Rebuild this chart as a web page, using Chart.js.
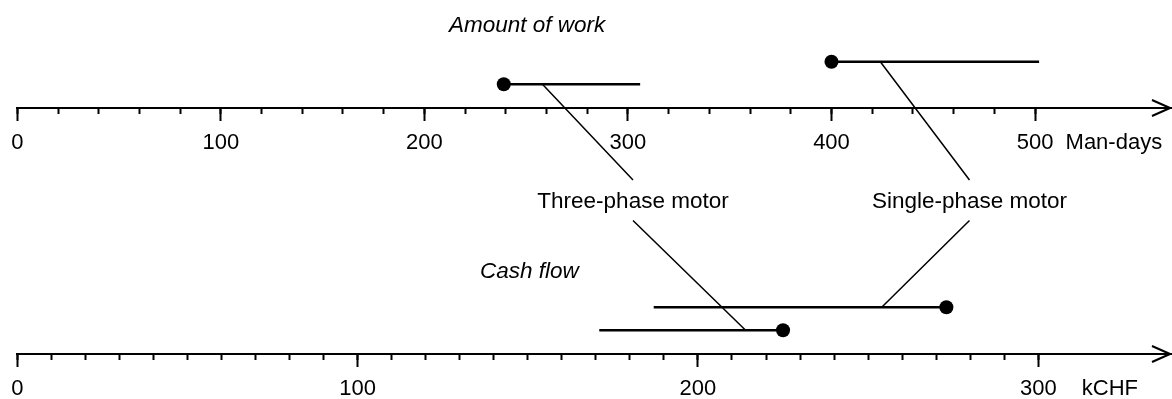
<!DOCTYPE html>
<html>
<head>
<meta charset="utf-8">
<script src="https://cdn.jsdelivr.net/npm/chart.js@4"></script>
<style>
  html, body { margin: 0; padding: 0; background: #fff; }
  #wrap { width: 1172px; height: 399px; position: relative; }
</style>
</head>
<body>
<div id="wrap"><canvas id="estimateChart"></canvas></div>
<script>
// Estimates per motor variant. The dot is the planned figure, the bar its spread.
const motors = ["Three-phase motor", "Single-phase motor"];
const workPlanned = [239, 400];   // man-days
const workMax = [306, 502];
const cashMin = [171, 187];       // kCHF
const cashPlanned = [225, 273];

// where each callout line leaves its bar
const workLeader = [258, 424];
const cashLeader = [214, 254];

const workTicks = [0, 100, 200, 300, 400, 500];
const cashTicks = [0, 100, 200, 300];
const workMinor = [];
for (let v = 0; v <= 500; v += 20) workMinor.push(v);
const cashMinor = [];
for (let v = 0; v <= 300; v += 10) cashMinor.push(v);

// vertical layout on the hidden y scale (0 = top)
const lanes = {
  workAxis: 108.3,
  cashAxis: 354.3,
  work: [84.3, 61.7],
  cash: [330.3, 307.3]
};
const callouts = [{ x: 633, y: 202 }, { x: 969.5, y: 202 }];

const FAMILY = "'Liberation Sans', Arial, Helvetica, sans-serif";
const tickFont = { family: FAMILY, size: 22 };

function axis(max, axisY, values, tickLength, labels) {
  return {
    type: "linear",
    axis: "x",
    min: 0,
    max: max,
    position: { y: axisY },
    afterFit: s => { s.height = 0; },
    afterBuildTicks: s => { s.ticks = values.map(v => ({ value: v })); },
    border: { display: labels, color: "#000", width: 2 },
    grid: { drawOnChartArea: false, drawTicks: true, tickLength: tickLength, tickWidth: 2, tickColor: "#000" },
    ticks: { display: labels, autoSkip: false, maxRotation: 0, padding: 9, color: "#000", font: tickFont }
  };
}

const datasets = [];
motors.forEach((m, i) => {
  datasets.push({
    label: m + " (work)",
    xAxisID: "xWork",
    yAxisID: "y",
    data: [{ x: workPlanned[i], y: lanes.work[i] }, { x: workMax[i], y: lanes.work[i] }],
    pointRadius: [7, 0]
  });
  datasets.push({
    label: m + " (cash)",
    xAxisID: "xCash",
    yAxisID: "y",
    data: [{ x: cashMin[i], y: lanes.cash[i] }, { x: cashPlanned[i], y: lanes.cash[i] }],
    pointRadius: [0, 7]
  });
});
datasets.forEach(d => Object.assign(d, {
  showLine: true,
  borderColor: "#000",
  borderWidth: 2.5,
  pointBackgroundColor: "#000",
  pointBorderWidth: 0,
  clip: false
}));

// arrows, units, titles and callouts
const annotate = {
  id: "annotate",
  afterDraw(chart) {
    const { ctx, scales } = chart;
    const ys = scales.y, xw = scales.xWork, xc = scales.xCash;
    ctx.save();
    ctx.strokeStyle = "#000";
    ctx.fillStyle = "#000";

    // arrow heads
    ctx.lineWidth = 2;
    ctx.lineJoin = "round";
    [[xw, lanes.workAxis], [xc, lanes.cashAxis]].forEach(([s, v]) => {
      const x = s.right, y = Math.round(ys.getPixelForValue(v));
      ctx.beginPath();
      ctx.moveTo(x - 19, y - 8);
      ctx.lineTo(x - 1, y);
      ctx.lineTo(x - 19, y + 8);
      ctx.stroke();
    });

    // unit labels
    ctx.font = "22px " + FAMILY;
    ctx.textBaseline = "middle";
    ctx.textAlign = "left";
    ctx.fillText("Man-days", xw.getPixelForValue(515), ys.getPixelForValue(lanes.workAxis) + 34.5);
    ctx.fillText("kCHF", xc.getPixelForValue(312.8), ys.getPixelForValue(lanes.cashAxis) + 34.5);

    // panel titles
    ctx.font = "italic 22.5px " + FAMILY;
    ctx.fillText("Amount of work", 449, ys.getPixelForValue(26.2));
    ctx.fillText("Cash flow", 480, ys.getPixelForValue(271.5));

    // callouts
    ctx.font = "22.5px " + FAMILY;
    ctx.textAlign = "center";
    ctx.lineWidth = 1.5;
    motors.forEach((m, i) => {
      const c = callouts[i];
      const cy = ys.getPixelForValue(c.y);
      ctx.fillText(m, c.x, cy);
      ctx.beginPath();
      ctx.moveTo(xw.getPixelForValue(workLeader[i]), ys.getPixelForValue(lanes.work[i]));
      ctx.lineTo(c.x, cy - 22);
      ctx.moveTo(c.x, cy + 18.5);
      ctx.lineTo(xc.getPixelForValue(cashLeader[i]), ys.getPixelForValue(lanes.cash[i]));
      ctx.stroke();
    });
    ctx.restore();
  }
};

new Chart(document.getElementById("estimateChart"), {
  type: "scatter",
  data: { datasets },
  options: {
    responsive: true,
    maintainAspectRatio: false,
    animation: false,
    layout: { autoPadding: false, padding: { left: 17.3, right: 1, top: 0, bottom: 0 } },
    scales: {
      y: { type: "linear", min: 0, max: 399, reverse: true, display: false },
      xWork: axis(566.8, lanes.workAxis, workTicks, 12, true),
      xWorkMinor: axis(566.8, lanes.workAxis, workMinor, 6, false),
      xCash: axis(339.0, lanes.cashAxis, cashTicks, 12, true),
      xCashMinor: axis(339.0, lanes.cashAxis, cashMinor, 6, false)
    },
    plugins: {
      legend: { display: false },
      tooltip: { enabled: false }
    }
  },
  plugins: [annotate]
});
</script>
</body>
</html>
